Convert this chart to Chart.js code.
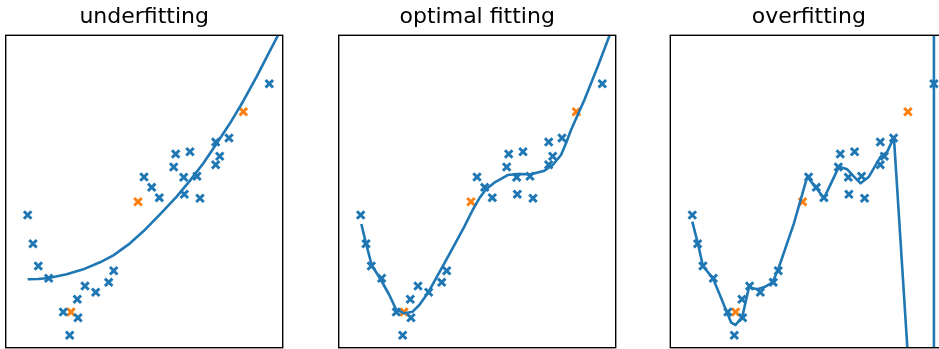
<!DOCTYPE html>
<html>
<head>
<meta charset="utf-8">
<script src="https://cdn.jsdelivr.net/npm/chart.js@4.4.1/dist/chart.umd.min.js"></script>
<style>
  html, body { margin: 0; padding: 0; background: #fff; overflow: hidden; width: 939px; height: 349px; }
  canvas { position: absolute; top: 0; }
</style>
</head>
<body>
<canvas id="c1" width="293" height="349" style="left:0px"></canvas>
<canvas id="c2" width="293" height="349" style="left:330px"></canvas>
<canvas id="c3" width="293" height="349" style="left:660px"></canvas>
<script>
// ---- data ----
const titles = ["underfitting", "optimal fitting", "overfitting"];

// training samples (blue)
const blueX = [0.0794, 0.0986, 0.1177, 0.1552, 0.2079, 0.2585, 0.2610, 0.2310, 0.2863, 0.3249,
               0.3718, 0.3899, 0.4993, 0.5271, 0.5545, 0.6137, 0.6653, 0.6065, 0.6426, 0.6906,
               0.6448, 0.7014, 0.7581, 0.8061, 0.7726, 0.7581, 0.9516];
const blueY = [0.4248, 0.3329, 0.2615, 0.2222, 0.1143, 0.1549, 0.0960, 0.0397, 0.1975, 0.1773,
               0.2093, 0.2465, 0.5464, 0.5134, 0.4802, 0.6200, 0.6274, 0.5784, 0.5455, 0.5487,
               0.4910, 0.4782, 0.6585, 0.6713, 0.6127, 0.5858, 0.8451];

// held-out samples (orange)
const orangeX = [0.2357, 0.4776, 0.8578];
const orangeY = [0.1143, 0.4673, 0.7554];

// fitted curves
const underX = [0.0793, 0.1178, 0.1551, 0.2201, 0.2863, 0.3404, 0.3886, 0.4487, 0.4969, 0.5570,
                0.6172, 0.6653, 0.7135, 0.7580, 0.8097, 0.8579, 0.9060, 0.9542, 0.9842, 1.0022];
const underY = [0.2189, 0.2199, 0.2231, 0.2349, 0.2530, 0.2733, 0.2957, 0.3341, 0.3725, 0.4269,
                0.4835, 0.5347, 0.5902, 0.6489, 0.7182, 0.7897, 0.8676, 0.9508, 1.0020, 1.0340];

const optX = [0.0817, 0.0986, 0.1190, 0.1527, 0.1828, 0.2069, 0.2369, 0.2670, 0.2911, 0.3212,
              0.3513, 0.3813, 0.4174, 0.4535, 0.4836, 0.5077, 0.5318, 0.5618, 0.6100, 0.6461,
              0.6942, 0.7424, 0.7725, 0.8025, 0.8206, 0.8386, 0.8868, 0.9349, 0.9770, 0.9951];
const optY = [0.3960, 0.3341, 0.2647, 0.2167, 0.1687, 0.1228, 0.1100, 0.1153, 0.1367, 0.1740,
              0.2221, 0.2701, 0.3287, 0.3874, 0.4408, 0.4781, 0.5069, 0.5283, 0.5528, 0.5560,
              0.5550, 0.5667, 0.5848, 0.6168, 0.6542, 0.6969, 0.7929, 0.8996, 0.9978, 1.0383];

const overX = [0.0793, 0.0998, 0.1178, 0.1539, 0.1816, 0.2057, 0.2201, 0.2357, 0.2598, 0.2839,
               0.3140, 0.3380, 0.3681, 0.3886, 0.4463, 0.4945, 0.5306, 0.5546, 0.6088, 0.6389,
               0.6629, 0.6870, 0.7171, 0.7592, 0.7833, 0.8073, 0.8555, 0.8621, 0.9000, 0.9514,
               0.9516, 0.9518];
const overY = [0.4034, 0.3330, 0.2615, 0.2221, 0.1634, 0.1100, 0.0801, 0.0727, 0.0993, 0.1932,
               0.1868, 0.1932, 0.2082, 0.2487, 0.3981, 0.5475, 0.5069, 0.4781, 0.5795, 0.5710,
               0.5475, 0.5261, 0.5475, 0.6115, 0.6275, 0.6734, 0.0033, -0.1034, -3.0, -3.0,
               0.8451, 3.0];

const curvesX = [underX, optX, overX];
const curvesY = [underY, optY, overY];

// ---- drawing ----
const BLUE = '#1f77b4', ORANGE = '#ff7f0e';
const pts = (xs, ys) => xs.map((x, i) => ({ x: x, y: ys[i] }));

const framePlugin = {
  id: 'frame',
  afterDraw(chart) {
    const a = chart.chartArea, ctx = chart.ctx;
    ctx.save();
    ctx.strokeStyle = '#000';
    ctx.lineWidth = 1.4;
    ctx.strokeRect(a.left, a.top, a.right - a.left, a.bottom - a.top);
    ctx.restore();
  }
};

const padLeft = [5.7, 8.7, 10.3];
['c1', 'c2', 'c3'].forEach((id, i) => {
  const pl = padLeft[i];
  new Chart(document.getElementById(id), {
    type: 'scatter',
    data: {
      datasets: [
        { type: 'line', data: pts(curvesX[i], curvesY[i]), borderColor: BLUE, borderWidth: 2.6,
          pointRadius: 0, tension: 0, fill: false, clip: 0, borderJoinStyle: 'round', borderCapStyle: 'butt' },
        { data: pts(blueX, blueY), pointStyle: 'crossRot', pointRadius: 5.3, borderColor: BLUE,
          backgroundColor: BLUE, pointBorderWidth: 3, borderWidth: 3, clip: false },
        { data: pts(orangeX, orangeY), pointStyle: 'crossRot', pointRadius: 5.3, borderColor: ORANGE,
          backgroundColor: ORANGE, pointBorderWidth: 3, borderWidth: 3, clip: false }
      ]
    },
    options: {
      responsive: false,
      animation: false,
      devicePixelRatio: 1,
      events: [],
      layout: { autoPadding: false, padding: { left: pl, right: 293 - pl - 277, top: 0, bottom: 1.3 } },
      scales: {
        x: { type: 'linear', min: 0, max: 1, display: false },
        y: { type: 'linear', min: 0, max: 1, display: false }
      },
      plugins: {
        legend: { display: false },
        tooltip: { enabled: false },
        title: { display: true, text: titles[i], color: '#000',
                 font: { family: 'DejaVu Sans', size: 22, weight: 'normal', lineHeight: 1.2 },
                 padding: { top: 4, bottom: 4.9 } }
      }
    },
    plugins: [framePlugin]
  });
});
</script>
</body>
</html>
